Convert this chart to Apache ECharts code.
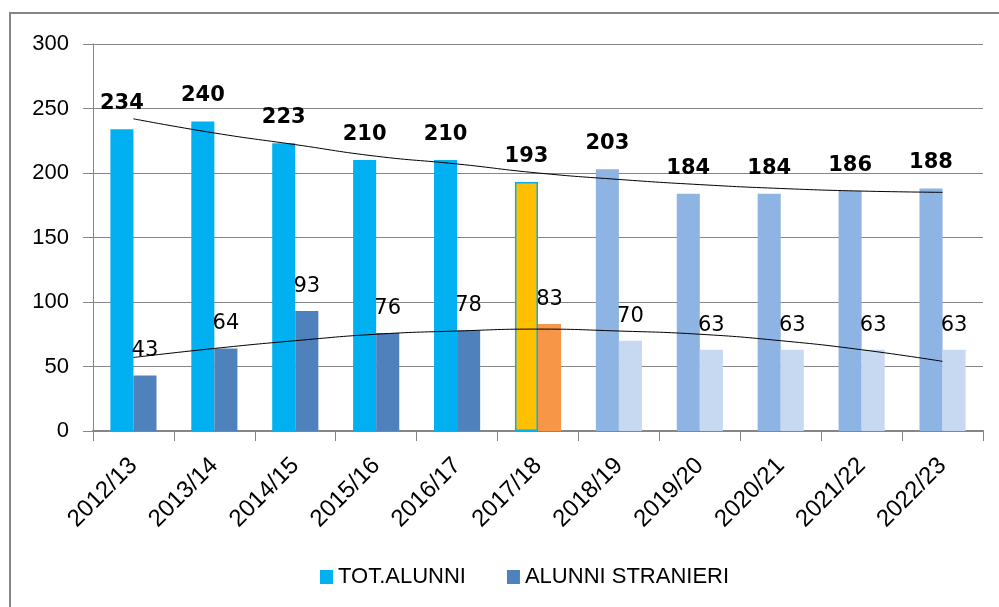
<!DOCTYPE html>
<html>
<head>
<meta charset="utf-8">
<script src="https://cdn.jsdelivr.net/npm/echarts@6/dist/echarts.min.js"></script>
<style>
  html, body { margin: 0; padding: 0; background: #fff; }
  #chart { width: 999px; height: 607px; }
</style>
</head>
<body>
<div id="chart"></div>
<script>
// anni scolastici
var anni = ['2012/13', '2013/14', '2014/15', '2015/16', '2016/17', '2017/18',
  '2018/19', '2019/20', '2020/21', '2021/22', '2022/23'];
var totAlunni = [234, 240, 223, 210, 210, 193, 203, 184, 184, 186, 188];
var alunniStranieri = [43, 64, 93, 76, 78, 83, 70, 63, 63, 63, 63];
// linee di tendenza
var tendenzaTot = [242, 231, 222, 213, 207, 200, 195, 191, 188, 186, 185];
var tendenzaStranieri = [57, 64, 70, 75, 77.5, 79, 77.5, 75, 70, 63, 54];
var yTicks = [0, 50, 100, 150, 200, 250, 300];

var chart = echarts.init(document.getElementById('chart'));

// 0-4 consuntivo, 5 anno corrente, 6+ previsione
function coloreTot(i) {
  if (i < 5) return '#00B0F0';
  if (i === 5) return '#FFC000';
  return '#8EB4E3';
}
function coloreStr(i) {
  if (i < 5) return '#4F81BD';
  if (i === 5) return '#F79646';
  return '#C6D9F1';
}

var grigio = '#868686';

var option = {
  animation: false,
  textStyle: { fontFamily: 'Liberation Sans' },
  graphic: [{
    type: 'rect',
    shape: { x: 10, y: 13, width: 1000, height: 620 },
    style: { fill: 'none', stroke: grigio, lineWidth: 2 },
    silent: true
  }],
  grid: {
    left: 93,
    right: 16,
    top: 44,
    bottom: 176
  },
  legend: {
    data: ['TOT.ALUNNI', 'ALUNNI STRANIERI'],
    bottom: 14,
    left: 315,
    itemWidth: 13,
    itemHeight: 14,
    itemGap: 41,
    icon: 'rect',
    textStyle: { fontSize: 22, color: '#000', fontFamily: 'Liberation Sans' }
  },
  xAxis: {
    type: 'category',
    data: anni,
    axisLine: { lineStyle: { color: grigio, width: 2 } },
    axisTick: { show: true, length: 10, lineStyle: { color: grigio } },
    axisLabel: {
      rotate: 45,
      margin: 31,
      fontSize: 24,
      color: '#000',
      interval: 0
    }
  },
  yAxis: {
    type: 'value',
    min: 0,
    max: 300,
    interval: 50,
    axisLine: { show: true, lineStyle: { color: grigio, width: 1 } },
    axisTick: { show: true, length: 10, lineStyle: { color: grigio } },
    splitLine: { lineStyle: { color: grigio, width: 1 } },
    axisLabel: {
      margin: 24,
      fontSize: 22,
      color: '#000',
      customValues: yTicks
    }
  },
  series: [
    {
      name: 'TOT.ALUNNI',
      type: 'bar',
      barGap: '0%',
      barCategoryGap: '43%',
      itemStyle: { color: '#00B0F0' },
      data: totAlunni.map(function (v, i) {
        var it = { value: v, itemStyle: { color: coloreTot(i) } };
        if (i === 5) {
          it.itemStyle.borderColor = '#00B0F0';
          it.itemStyle.borderWidth = 1.5;
        }
        return it;
      }),
      label: {
        show: true,
        position: 'top',
        distance: 15,
        fontFamily: 'DejaVu Sans',
        fontWeight: 'bold',
        fontSize: 21,
        color: '#000'
      },
      z: 2
    },
    {
      name: 'ALUNNI STRANIERI',
      type: 'bar',
      itemStyle: { color: '#4F81BD' },
      data: alunniStranieri.map(function (v, i) {
        return { value: v, itemStyle: { color: coloreStr(i) } };
      }),
      label: {
        show: true,
        position: 'top',
        distance: 14,
        fontFamily: 'DejaVu Sans',
        fontSize: 21,
        color: '#000'
      },
      z: 2
    },
    {
      name: 'tendenza tot',
      type: 'line',
      data: tendenzaTot,
      smooth: true,
      symbol: 'none',
      silent: true,
      lineStyle: { color: '#000', width: 1 },
      z: 5
    },
    {
      name: 'tendenza stranieri',
      type: 'line',
      data: tendenzaStranieri,
      smooth: true,
      symbol: 'none',
      silent: true,
      lineStyle: { color: '#000', width: 1 },
      z: 5
    }
  ]
};

chart.setOption(option);
</script>
</body>
</html>
